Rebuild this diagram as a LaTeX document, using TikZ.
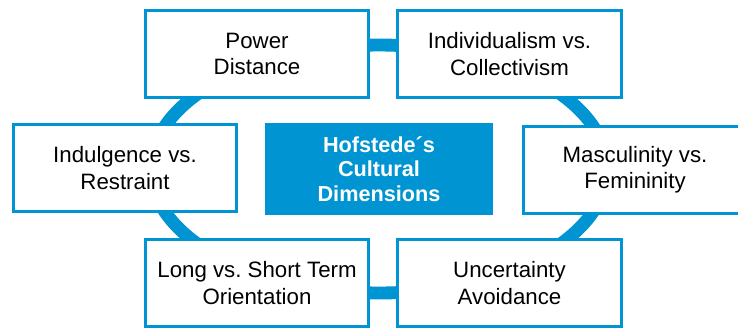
\documentclass[tikz,border=0pt]{standalone}
\usepackage{fontspec}
\setmainfont{Liberation Sans}
\usepackage{tikz}

\definecolor{hofblue}{RGB}{0,148,210}
\frenchspacing

\begin{document}
\begin{tikzpicture}[
    x=0.03cm, y=-0.03cm,
    dimension/.style={
        draw=hofblue,
        line width=2.5pt,
        fill=white,
        align=center,
        minimum width=6.7cm,
        minimum height=2.6cm,
        font=\fontsize{19}{22.5}\selectfont
    },
    core/.style={
        fill=hofblue,
        text=white,
        align=center,
        minimum width=6.84cm,
        minimum height=2.76cm,
        font=\fontsize{18.5}{21}\selectfont\bfseries
    },
    ring/.style={draw=hofblue, line width=11pt}
]
\useasboundingbox (0,0) rectangle (738,327);
\clip (0,0) rectangle (738,327);

% ring behind the six boxes
\draw[ring] (379,169) ellipse [x radius=228, y radius=124];

\node[core] (hofstede) at (379,169) {Hofstede´s\\Cultural\\Dimensions};

\node[dimension] (power) at (257,54) {Power\\Distance};
\node[dimension] (individ) at (509.5,54) {Individualism vs.\\Collectivism};
\node[dimension] (indulg) at (125,168) {Indulgence vs.\\Restraint};
\node[dimension] (mascul) at (635,170) {Masculinity vs.\\Femininity};
\node[dimension] (longterm) at (257,283) {Long vs. Short Term\\Orientation};
\node[dimension] (uncert) at (509.5,283) {Uncertainty\\Avoidance};

\end{tikzpicture}
\end{document}
